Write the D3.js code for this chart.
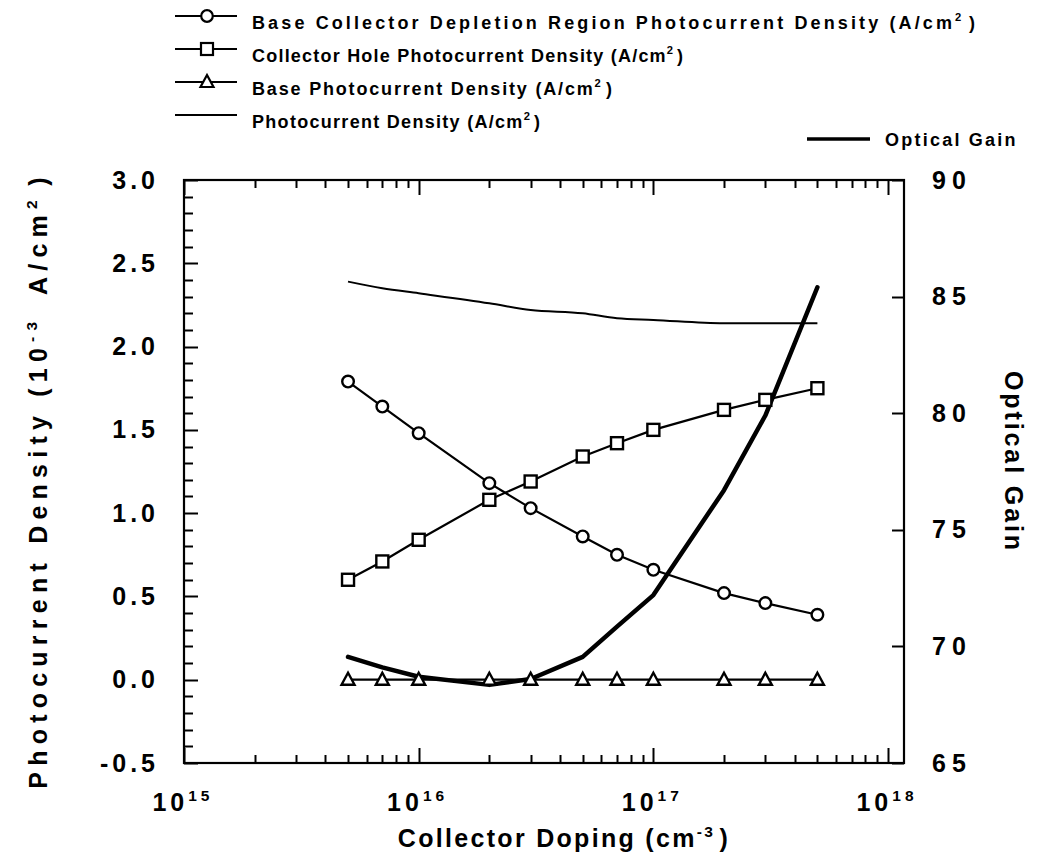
<!DOCTYPE html>
<html>
<head>
<meta charset="utf-8">
<script src="https://cdn.jsdelivr.net/npm/d3@7"></script>
<style>
  body { margin: 0; background: #fff; }
  text { font-family: "Liberation Sans", Arial, Helvetica, sans-serif; font-weight: bold; fill: #000; }
</style>
</head>
<body>
<svg id="chart" width="1045" height="858"></svg>
<script>
// Collector doping levels (cm^-3)
const doping = [5e15, 7e15, 1e16, 2e16, 3e16, 5e16, 7e16, 1e17, 2e17, 3e17, 5e17];
// Photocurrent components (10^-3 A/cm^2)
const depletionCurrent     = [1.79, 1.64, 1.48, 1.18, 1.03, 0.86, 0.75, 0.66, 0.52, 0.46, 0.39];
const collectorHoleCurrent = [0.60, 0.71, 0.84, 1.08, 1.19, 1.34, 1.42, 1.50, 1.62, 1.68, 1.75];
const baseCurrent          = [0, 0, 0, 0, 0, 0, 0, 0, 0, 0, 0];
const totalCurrent         = [2.39, 2.35, 2.32, 2.26, 2.22, 2.20, 2.17, 2.16, 2.14, 2.14, 2.14];
// Optical gain (right axis)
const opticalGain = [69.55, 69.1, 68.7, 68.35, 68.6, 69.55, 70.85, 72.2, 76.7, 79.9, 85.4];

// Axis ticks
const leftTicks  = [-0.5, 0.0, 0.5, 1.0, 1.5, 2.0, 2.5, 3.0];
const rightTicks = [65, 70, 75, 80, 85, 90];
const decades    = [15, 16, 17, 18];

const svg = d3.select("#chart");
const L = 184, R = 904, T = 180, B = 763;

const x  = d3.scaleLog().domain([1e15, Math.pow(10, 18.068)]).range([L, R]);
const y  = d3.scaleLinear().domain([-0.5, 3.0]).range([B, T]);
const y2 = d3.scaleLinear().domain([65, 90]).range([B, T]);

// Text with superscript segments; optionally spread to a given length
function richText(g, parts, opts) {
  const t = g.append("text")
    .attr("font-size", opts.size)
    .attr("text-anchor", opts.anchor || "start");
  if (opts.transform) t.attr("transform", opts.transform);
  else t.attr("x", opts.x).attr("y", opts.y);
  parts.forEach(p => {
    if (p.sup) {
      t.append("tspan").attr("dy", -opts.size * 0.42).attr("font-size", opts.size * 0.62).text(p.t);
      t.append("tspan").attr("dy", opts.size * 0.42).text("\u200A");
    } else {
      t.append("tspan").text(p.t);
    }
  });
  if (opts.width) {
    const n = parts.reduce((a, p) => a + p.t.length, 0);
    const w = t.node().getComputedTextLength();
    t.attr("letter-spacing", Math.max(0, (opts.width - w) / n));
  } else if (opts.ls) {
    t.attr("letter-spacing", opts.ls);
  }
  return t;
}

// ---- Tick marks (all pointing into the plot) ----
const tickG = svg.append("g").attr("stroke", "#000").attr("stroke-width", 2);
const minorY = d3.range(-5, 31).map(v => v / 10);
tickG.append("g").selectAll("line").data(minorY).join("line")
  .attr("x1", L).attr("x2", d => L + (Math.abs(d * 2 - Math.round(d * 2)) < 1e-9 ? 14 : 9))
  .attr("y1", d => Math.round(y(d)) + 0.5).attr("y2", d => Math.round(y(d)) + 0.5);
tickG.append("g").selectAll("line").data(rightTicks).join("line")
  .attr("x1", R).attr("x2", R - 12)
  .attr("y1", d => Math.round(y2(d)) + 0.5).attr("y2", d => Math.round(y2(d)) + 0.5);

const minorX = [];
[15, 16, 17].forEach(e => { for (let k = 2; k <= 9; k++) minorX.push(k * Math.pow(10, e)); });
const majorX = decades.map(e => Math.pow(10, e));
const xTicks = minorX.map(v => ({ v, len: 8 })).concat(majorX.map(v => ({ v, len: 15 })));
[[B, -1], [T, 1]].forEach(([pos, dir]) => {
  tickG.append("g").selectAll("line").data(xTicks).join("line")
    .attr("x1", d => Math.round(x(d.v)) + 0.5).attr("x2", d => Math.round(x(d.v)) + 0.5)
    .attr("y1", pos).attr("y2", d => pos + dir * d.len);
});

// ---- Tick labels ----
svg.append("g").attr("transform", `translate(${L},0)`)
  .call(d3.axisLeft(y).tickValues(leftTicks).tickSize(0).tickPadding(25))
  .call(g => g.select(".domain").remove())
  .call(g => g.selectAll("text").attr("font-size", 25).attr("letter-spacing", 4)
      .attr("font-family", null).attr("fill", "#000")
      .text(d => d3.format(".1f")(d).replace("\u2212", "-")));
svg.append("g").attr("transform", `translate(${R},0)`)
  .call(d3.axisRight(y2).tickValues(rightTicks).tickSize(0).tickPadding(28).tickFormat(d => String(d)))
  .call(g => g.select(".domain").remove())
  .call(g => g.selectAll("text").attr("font-size", 25).attr("letter-spacing", 6)
      .attr("font-family", null).attr("fill", "#000"));

decades.forEach(e => {
  richText(svg, [{ t: "10" }, { t: String(e), sup: true }],
    { x: x(Math.pow(10, e)) + 2, y: 811, size: 25, ls: 4, anchor: "middle" });
});

// Frame
svg.append("rect").attr("x", L).attr("y", T).attr("width", R - L).attr("height", B - T)
  .attr("fill", "none").attr("stroke", "#000").attr("stroke-width", 2.2);

// ---- Series ----
const pts = vals => doping.map((d, i) => [d, vals[i]]);
const lineL = d3.line().x(d => x(d[0])).y(d => y(d[1]));
const lineSmooth = d3.line().x(d => x(d[0])).y(d => y(d[1])).curve(d3.curveMonotoneX);
const lineR = d3.line().x(d => x(d[0])).y(d => y2(d[1]));

svg.append("path").attr("d", lineSmooth(pts(totalCurrent)))
  .attr("fill", "none").attr("stroke", "#000").attr("stroke-width", 2);
[depletionCurrent, collectorHoleCurrent, baseCurrent].forEach(s => {
  svg.append("path").attr("d", lineL(pts(s)))
    .attr("fill", "none").attr("stroke", "#000").attr("stroke-width", 2.2);
});
svg.append("path").attr("d", lineR(pts(opticalGain)))
  .attr("fill", "none").attr("stroke", "#000").attr("stroke-width", 4.5)
  .attr("stroke-linejoin", "round").attr("stroke-linecap", "round");

const sym = {
  circle:   (g, cx, cy) => g.append("circle").attr("cx", cx).attr("cy", cy).attr("r", 5.8),
  square:   (g, cx, cy) => g.append("rect").attr("x", cx - 6).attr("y", cy - 6).attr("width", 12).attr("height", 12),
  triangle: (g, cx, cy) => g.append("path").attr("d", `M${cx},${cy - 7}L${cx + 6.5},${cy + 5}L${cx - 6.5},${cy + 5}Z`)
};
function markers(vals, kind) {
  const g = svg.append("g").attr("fill", "#fff").attr("stroke", "#000").attr("stroke-width", 2.4);
  pts(vals).forEach(d => sym[kind](g, x(d[0]), y(d[1])));
}
markers(depletionCurrent, "circle");
markers(collectorHoleCurrent, "square");
markers(baseCurrent, "triangle");

// ---- Axis titles ----
richText(svg, [{ t: "Photocurrent Density (10" }, { t: "-3", sup: true }, { t: " A/cm" }, { t: "2", sup: true }, { t: ")" }],
  { transform: "translate(47,480) rotate(-90)", size: 25, width: 605, anchor: "middle" });
richText(svg, [{ t: "Optical  Gain" }],
  { transform: "translate(1005,462) rotate(90)", size: 25, width: 185, anchor: "middle" });
richText(svg, [{ t: "Collector Doping (cm" }, { t: "-3", sup: true }, { t: ")" }],
  { x: 564, y: 847, size: 25, width: 330, anchor: "middle" });

// ---- Legend ----
const legendRows = [
  { label: "Base Collector Depletion Region Photocurrent Density (A/cm", kind: "circle", y: 22, width: 723 },
  { label: "Collector Hole Photocurrent Density (A/cm", kind: "square", y: 55, width: 431 },
  { label: "Base Photocurrent Density (A/cm", kind: "triangle", y: 88, width: 360 },
  { label: "Photocurrent Density (A/cm", kind: null, y: 121, width: 288 }
];
legendRows.forEach(r => {
  const ly = r.y - 6;
  svg.append("line").attr("x1", 175).attr("x2", 237).attr("y1", ly).attr("y2", ly)
    .attr("stroke", "#000").attr("stroke-width", 2.2);
  if (r.kind) {
    const g = svg.append("g").attr("fill", "#fff").attr("stroke", "#000").attr("stroke-width", 2.2);
    sym[r.kind](g, 207, ly);
  }
  richText(svg, [{ t: r.label }, { t: "2", sup: true }, { t: ")" }],
    { x: 252, y: r.y + 7, size: 18, width: r.width });
});
svg.append("line").attr("x1", 807).attr("x2", 870).attr("y1", 139).attr("y2", 139)
  .attr("stroke", "#000").attr("stroke-width", 3.5);
richText(svg, [{ t: "Optical  Gain" }], { x: 885, y: 146, size: 18, width: 135 });
</script>
</body>
</html>
